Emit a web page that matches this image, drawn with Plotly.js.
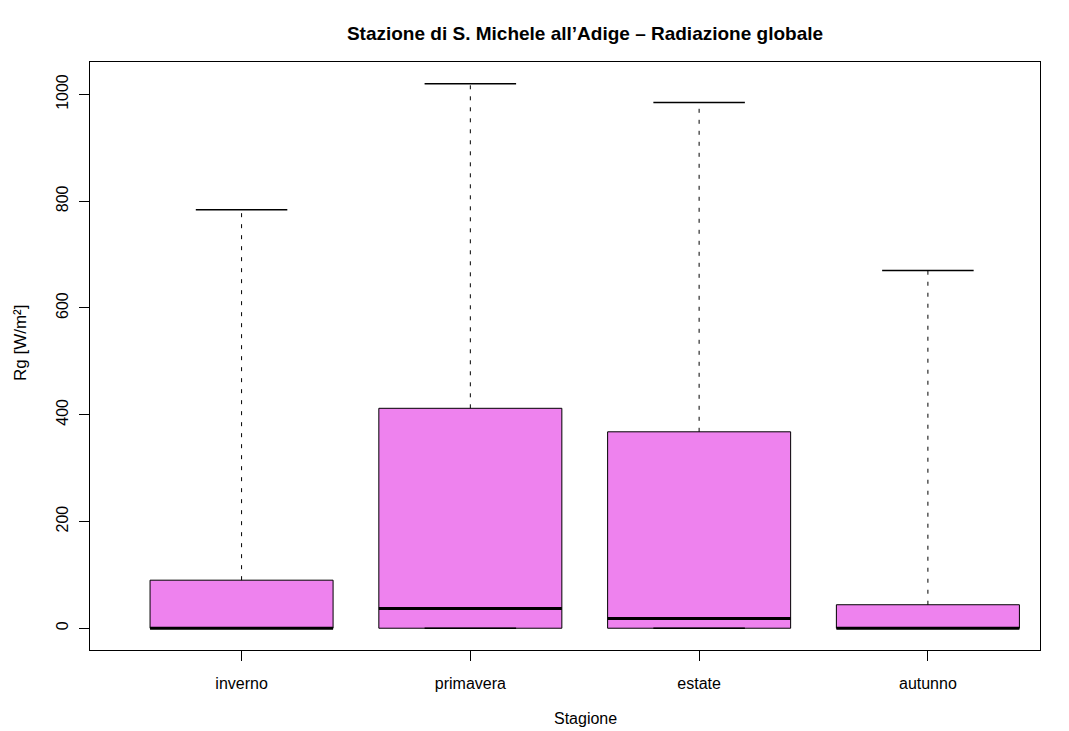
<!DOCTYPE html>
<html>
<head>
<meta charset="utf-8">
<script src="https://cdn.plot.ly/plotly-3.0.1.min.js"></script>
<style>html,body{margin:0;padding:0;background:#fff;}#chart{width:1069px;height:731px;}</style>
</head>
<body>
<div id="chart"></div>
<script>
// Data
var categories = ["inverno", "primavera", "estate", "autunno"];
var lowerWhisker = [0, 0, 0, 0];
var q1Values = [0, 0, 0, 0];
var medianValues = [0, 37, 18, 0];
var q3Values = [90, 412, 368, 44];
var upperWhisker = [784, 1020, 985, 670];
var yTickValues = [0, 200, 400, 600, 800, 1000];

var pos = categories.map(function(_, i){ return i + 1; });
var boxHalf = 0.4, stapleHalf = 0.2;

function segs(fn){
  var xs = [], ys = [];
  pos.forEach(function(p, i){
    var s = fn(p, i);
    xs.push(s[0], s[1], null);
    ys.push(s[2], s[3], null);
  });
  return {x: xs, y: ys};
}

var boxes = {
  type: 'bar', x: pos, base: q1Values,
  y: q3Values.map(function(v, i){ return v - q1Values[i]; }),
  width: 0.8,
  marker: {color: '#EE82EE', line: {color: '#000', width: 1}},
  hoverinfo: 'skip', showlegend: false
};
var upW = segs(function(p, i){ return [p, p, q3Values[i], upperWhisker[i]]; });
var loW = segs(function(p, i){ return [p, p, q1Values[i], lowerWhisker[i]]; });
var whiskers = {
  type: 'scatter', mode: 'lines',
  x: upW.x.concat(loW.x), y: upW.y.concat(loW.y),
  line: {color: '#000', width: 1, dash: '4px,7px'},
  hoverinfo: 'skip', showlegend: false
};
var upS = segs(function(p, i){ return [p - stapleHalf, p + stapleHalf, upperWhisker[i], upperWhisker[i]]; });
var loS = segs(function(p, i){ return [p - stapleHalf, p + stapleHalf, lowerWhisker[i], lowerWhisker[i]]; });
var staples = {
  type: 'scatter', mode: 'lines',
  x: upS.x.concat(loS.x), y: upS.y.concat(loS.y),
  line: {color: '#000', width: 1.5},
  hoverinfo: 'skip', showlegend: false
};
var med = segs(function(p, i){ return [p - boxHalf, p + boxHalf, medianValues[i], medianValues[i]]; });
var medians = {
  type: 'scatter', mode: 'lines', x: med.x, y: med.y,
  line: {color: '#000', width: 3},
  hoverinfo: 'skip', showlegend: false
};

var font = 'Liberation Sans, Arial, Helvetica, sans-serif';
var layout = {
  width: 1069, height: 731,
  margin: {l: 90, r: 29, t: 62, b: 81},
  paper_bgcolor: '#fff', plot_bgcolor: '#fff',
  font: {family: font, size: 16, color: '#000'},
  title: {
    text: '<b>Stazione di S. Michele all’Adige – Radiazione globale</b>',
    font: {family: font, size: 19, color: '#000'},
    x: 585 / 1069, xref: 'container', xanchor: 'center',
    y: 1 - 33 / 731, yref: 'container', yanchor: 'middle'
  },
  xaxis: {
    range: [0.3375, 4.49], tickvals: pos, ticktext: categories,
    ticks: 'outside', ticklen: 10, tickcolor: '#000',
    ticklabelstandoff: 9,
    showline: true, mirror: true, linecolor: '#000', linewidth: 1,
    showgrid: false, zeroline: false, fixedrange: true,
    tickfont: {size: 16}
  },
  yaxis: {
    range: [-40.8, 1060.8], tickvals: yTickValues,
    ticktext: yTickValues.map(String),
    tickangle: -90,
    ticks: 'outside', ticklen: 10, tickcolor: '#000',
    ticklabelstandoff: 5,
    showline: true, mirror: true, linecolor: '#000', linewidth: 1,
    showgrid: false, zeroline: false, fixedrange: true,
    tickfont: {size: 16}
  },
  annotations: [
    {text: 'Stagione', xref: 'paper', yref: 'paper',
     x: (585 - 90) / 950, y: (650 - 718) / 588,
     xanchor: 'center', yanchor: 'middle', showarrow: false,
     font: {size: 16}},
    {text: 'Rg [W/m²]', xref: 'paper', yref: 'paper',
     x: (20 - 90) / 950, y: (650 - 343) / 588, textangle: -90,
     xanchor: 'center', yanchor: 'middle', showarrow: false,
     font: {size: 17}}
  ]
};

Plotly.newPlot('chart', [boxes, whiskers, staples, medians], layout, {displayModeBar: false, staticPlot: true});
</script>
</body>
</html>
